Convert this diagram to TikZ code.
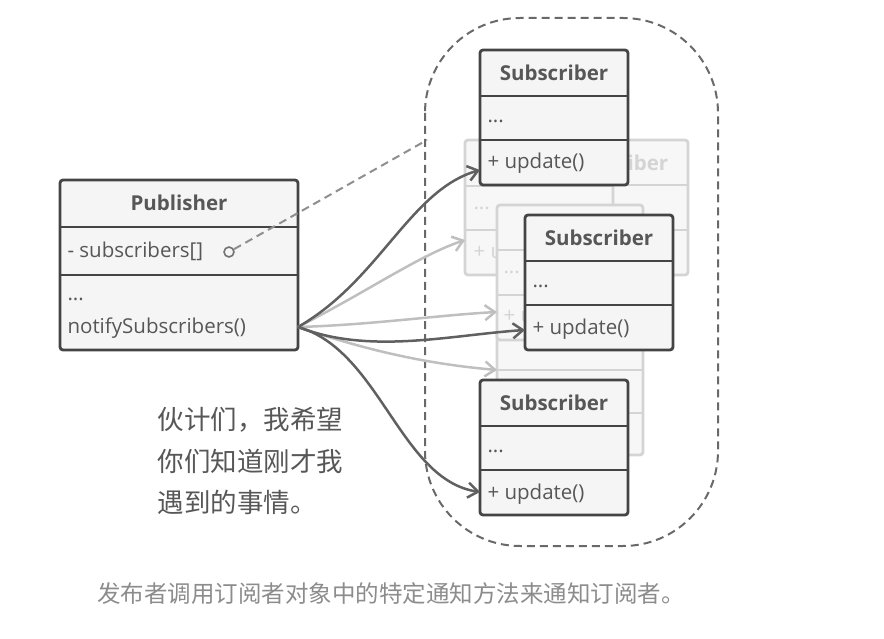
\documentclass[tikz,border=0pt]{standalone}
\usepackage{fontspec}
\setmainfont{Open Sans}
\newfontfamily\cjk{Noto Sans CJK SC}
\usetikzlibrary{arrows.meta}
\definecolor{ln}{HTML}{444444}
\definecolor{fd}{HTML}{D4D4D4}
\tikzset{
 box/.style={draw=ln,line width=2.8pt,fill=white!96!black,rounded corners=3pt},
 fbox/.style={draw=fd,line width=2.8pt,fill=white!97!black,rounded corners=3pt},
 arr/.style={draw=ln!85,line width=2.5pt,-{Straight Barb[length=10pt,width=15pt]}},
 farr/.style={draw=fd!90!black,line width=2.5pt,-{Straight Barb[length=10pt,width=15pt]}},
 txt/.style={anchor=west,font=\fontsize{20.5}{22}\selectfont,text=ln!90},
 hd/.style={font=\bfseries\fontsize{20.5}{22}\selectfont,text=ln!90},
 dsh/.style={dash pattern=on 8pt off 5pt,line width=2pt},
}
\newcommand{\umlbox}[6]{% style, x, y, title, row2, row3
 \draw[#1] (#2,#3) rectangle ++(148,135);
 \draw[#1,rounded corners=0pt] (#2,#3+46) -- ++(148,0) (#2,#3+90) -- ++(148,0);
 \node[hd] at (#2+74,#3+23) {#4};
}
\begin{document}
\begin{tikzpicture}[x=1pt,y=-1pt]
\useasboundingbox (0,0) rectangle (884,639);
% faded boxes
\draw[fbox] (540,140) rectangle (688,275);
\draw[fbox] (540,185) -- (688,185) (540,230) -- (688,230);
\node[font=\bfseries\fontsize{20.5}{22}\selectfont,text=fd] at (614,163) {Subscriber};
\draw[fbox] (465,140) rectangle (613,275);
\draw[fbox] (465,186) -- (613,186) (465,230) -- (613,230);
\node[txt,text=fd] at (470,208) {...};
\node[txt,text=fd] at (470,252) {+ u};
\draw[fbox] (497,330) rectangle (643,455);
\draw[fbox] (497,370) -- (643,370) (497,413) -- (643,413);
\draw[fbox] (497,205) rectangle (643,340);
\draw[fbox] (497,250) -- (643,250) (497,295) -- (643,295);
\node[font=\bfseries\fontsize{20.5}{22}\selectfont,text=fd] at (545,228) {Su};
\node[txt,text=fd] at (500,272) {...};
\node[txt,text=fd] at (500,316) {+ u};
% container
\draw[dsh,draw=ln!80,rounded corners=95pt] (425,18) rectangle (718,546);
% publisher
\draw[box] (60,180) rectangle (298,350);
\draw[box,rounded corners=0pt] (60,227) -- (298,227) (60,275) -- (298,275);
\node[hd] (pub) at (179,203) {Publisher};
\node[txt] (subs) at (64,251) {- subscribers[]};
\node[txt] at (64,299) {...};
\node[txt] (notify) at (64,328) {notifySubscribers()};
\node[draw=ln!75,circle,line width=1.6pt,inner sep=3.5pt] (dot) at (229,252) {};
\coordinate (src) at (298,327);
\draw[dsh,draw=ln!60] (dot) -- (427,140);
% faded arrows
\draw[farr] (src) .. controls (370,290) and (420,255) .. (465,240);
\draw[farr] (src) .. controls (370,325) and (440,315) .. (497,312);
\draw[farr] (src) .. controls (380,355) and (440,365) .. (497,370);
% subscribers
\umlbox{box}{480}{50}{Subscriber}{}{}
\node[txt] at (484,121) {...};
\node[txt] (u1) at (484,163) {+ update()};
\umlbox{box}{525}{215}{Subscriber}{}{}
\node[txt] at (529,286) {...};
\node[txt] (u2) at (529,329) {+ update()};
\umlbox{box}{480}{380}{Subscriber}{}{}
\node[txt] at (484,451) {...};
\node[txt] (u3) at (484,494) {+ update()};
\draw[arr] (src) .. controls (380,280) and (410,190) .. (480,170);
\draw[arr] (src) .. controls (370,355) and (450,335) .. (525,330);
\draw[arr] (src) .. controls (380,350) and (400,480) .. (480,492);
% note
\node[anchor=north west,align=left,font=\cjk\fontsize{26.5}{41.5}\selectfont,text=ln!90] at (154,404) {伙计们，我希望\\你们知道刚才我\\遇到的事情。};
\node[font=\cjk\fontsize{23.5}{26}\selectfont,text=black!45] at (391,594) {发布者调用订阅者对象中的特定通知方法来通知订阅者。};
\end{tikzpicture}
\end{document}
